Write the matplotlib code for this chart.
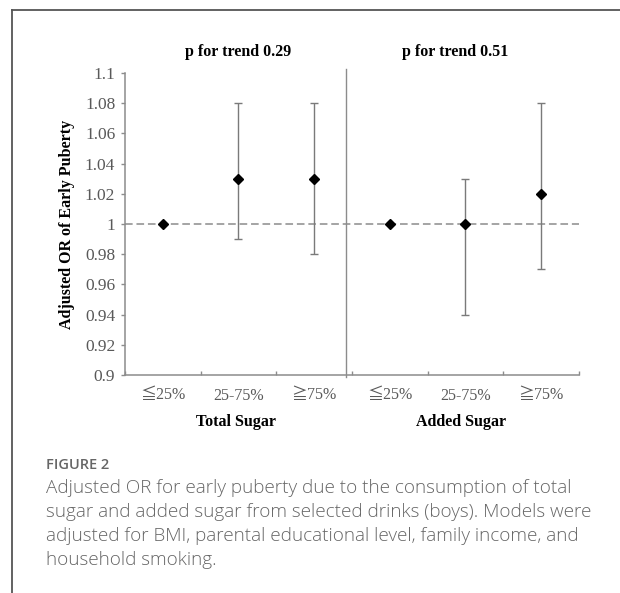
import numpy as np
import matplotlib
matplotlib.use("Agg")
import matplotlib.pyplot as plt
from matplotlib.lines import Line2D

# data
categories = ["≦25%", "25-75%", "≧75%", "≦25%", "25-75%", "≧75%"]
groups = ["Total Sugar", "Added Sugar"]
trend_labels = ["p for trend 0.29", "p for trend 0.51"]
odds_ratio = [1.00, 1.03, 1.03, 1.00, 1.00, 1.02]
ci_low = [1.00, 0.99, 0.98, 1.00, 0.94, 0.97]
ci_high = [1.00, 1.08, 1.08, 1.00, 1.03, 1.08]
yticks = [0.9, 0.92, 0.94, 0.96, 0.98, 1, 1.02, 1.04, 1.06, 1.08, 1.1]
ytick_labels = ["0.9", "0.92", "0.94", "0.96", "0.98", "1", "1.02", "1.04", "1.06", "1.08", "1.1"]

serif = ["Liberation Serif", "DejaVu Serif", "Noto Sans CJK JP"]
grey = "#8c8c8c"
tick_grey = "#595959"

fig = plt.figure(figsize=(6.2, 5.93), dpi=100)
W, H = 620, 593

# axes placed in pixel terms
ax = fig.add_axes([125 / W, 1 - 375 / H, 454 / W, 302 / H])

x = np.arange(len(categories))
y = np.array(odds_ratio)
lo = y - np.array(ci_low)
hi = np.array(ci_high) - y
has_bar = (lo + hi) > 0

ax.axhline(1.0, color=grey, lw=1.1, ls=(0, (5, 2.5)), zorder=1)
ax.errorbar(x[has_bar], y[has_bar], yerr=[lo[has_bar], hi[has_bar]], fmt="none",
            ecolor="#7a7a7a", elinewidth=1.0, capsize=3, capthick=1.0, zorder=2)
ax.plot(x, y, "D", color="black", markersize=5.3, zorder=3)

ax.set_xlim(-0.5, 5.5)
ax.set_ylim(0.9, 1.1)
ax.set_yticks(yticks)
ax.set_yticklabels(ytick_labels, family=serif, fontsize=12.5, color=tick_grey)
ax.set_xticks(np.arange(-0.5, 6, 1))
ax.set_xticklabels([])
ax.set_xticks(x, minor=True)
ax.set_xticklabels(categories, minor=True, family=serif, fontsize=11.5, color=tick_grey)
ax.tick_params(axis="x", which="major", direction="in", length=3, color=grey, width=1)
ax.tick_params(axis="x", which="minor", length=0, pad=9)
ax.tick_params(axis="y", direction="out", length=3, color=grey, width=1, pad=4)

for s in ["top", "right"]:
    ax.spines[s].set_visible(False)
for s in ["left", "bottom"]:
    ax.spines[s].set_color(grey)
    ax.spines[s].set_linewidth(1.1)

# group separator
ax.axvline(2.42, ymin=-0.007, ymax=1.013, color=grey, lw=1.0, clip_on=False)

ax.set_ylabel("Adjusted OR of Early Puberty", family=serif, fontsize=11.5,
              fontweight="bold", labelpad=7)

# titles and group names
for xc, lab in zip([238.5, 455], trend_labels):
    fig.text(xc / W, 1 - 52 / H, lab, ha="center", va="center", family=serif,
             fontsize=11.5, fontweight="bold")
for xc, lab in zip([236, 461], groups):
    fig.text(xc / W, 1 - 422 / H, lab, ha="center", va="center", family=serif,
             fontsize=11.5, fontweight="bold")

# frame lines
fig.add_artist(Line2D([12 / W, 12 / W], [0, 1 - 10 / H], transform=fig.transFigure,
                      color="#555555", lw=1.3))
fig.add_artist(Line2D([12 / W, 1], [1 - 10 / H, 1 - 10 / H], transform=fig.transFigure,
                      color="#555555", lw=1.3))

# caption
fig.text(46 / W, 1 - 469 / H, "FIGURE 2", ha="left", va="baseline",
         family="Open Sans", fontweight="semibold", fontsize=10.5, color="#666666")
caption = ["Adjusted OR for early puberty due to the consumption of total",
           "sugar and added sugar from selected drinks (boys). Models were",
           "adjusted for BMI, parental educational level, family income, and",
           "household smoking."]
for i, line in enumerate(caption):
    fig.text(46 / W, 1 - (493 + 24 * i) / H, line, ha="left", va="baseline",
             family="Open Sans", fontweight="light", fontsize=13.6, color="#666666")

fig.savefig("out.png", dpi=100)
